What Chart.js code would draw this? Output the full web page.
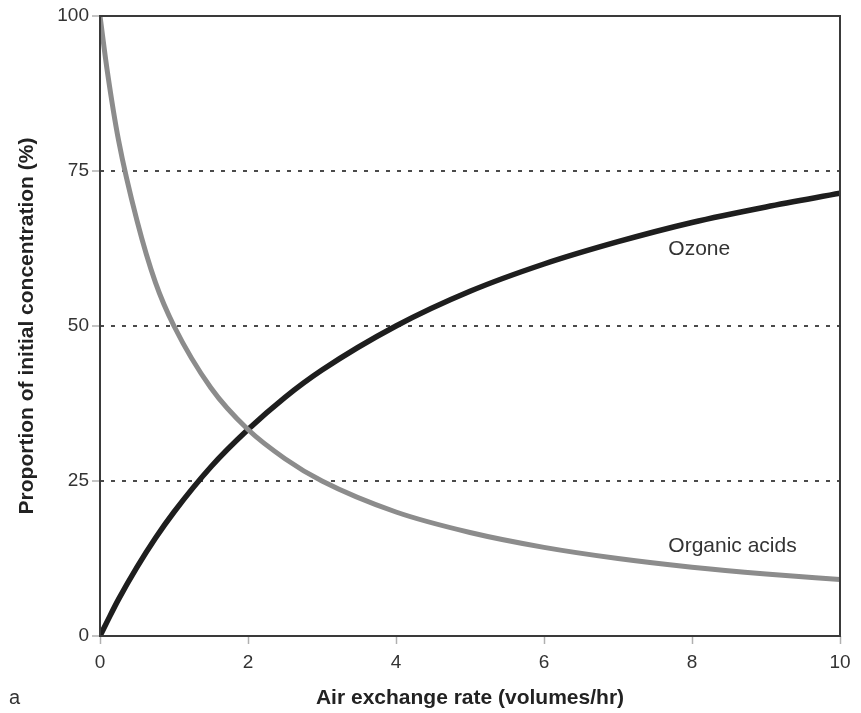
<!DOCTYPE html>
<html>
<head>
<meta charset="utf-8">
<script src="https://cdn.jsdelivr.net/npm/chart.js@4/dist/chart.umd.min.js"></script>
<style>
  html, body { margin: 0; padding: 0; background: #fff; }
  #wrap { width: 861px; height: 713px; }
</style>
</head>
<body>
<div id="wrap"><canvas id="chart"></canvas></div>
<script>
// values
const rates = [0, 0.1, 0.25, 0.5, 0.75, 1, 1.5, 2, 2.5, 3, 4, 5, 6, 7, 8, 9, 10];
const organicAcids = [100, 91, 80, 67, 57, 50, 40, 33.3, 28.6, 25, 20, 16.7, 14.3, 12.5, 11.1, 10, 9.1];
const ozone = [0, 2.4, 5.9, 11.1, 15.8, 20, 27.3, 33.3, 38.5, 42.9, 50, 55.6, 60, 63.6, 66.7, 69.2, 71.4];
const yTicks = [0, 25, 50, 75, 100];
const xTicks = [0, 2, 4, 6, 8, 10];

const seriesLabels = [
  { text: 'Ozone', x: 7.68, y: 62.4 },
  { text: 'Organic acids', x: 7.68, y: 14.5 }
];

const toPoints = (ys) => rates.map((x, i) => ({ x, y: ys[i] }));

const font = '"Liberation Sans", Arial, Helvetica, sans-serif';

// box around the plot, text labels and the little "a"
const extras = {
  id: 'extras',
  afterDraw(chart) {
    const { ctx, chartArea: a, scales } = chart;
    ctx.save();
    ctx.strokeStyle = '#3a3a3a';
    ctx.lineWidth = 2;
    ctx.strokeRect(a.left, a.top, a.right - a.left, a.bottom - a.top);

    ctx.fillStyle = '#333';
    ctx.font = '21px ' + font;
    ctx.textBaseline = 'middle';
    ctx.textAlign = 'left';
    seriesLabels.forEach(l => {
      ctx.fillText(l.text, scales.x.getPixelForValue(l.x), scales.y.getPixelForValue(l.y));
    });
    ctx.font = '20px ' + font;
    ctx.fillText('a', 9, 698);
    ctx.restore();
  }
};

new Chart(document.getElementById('chart'), {
  type: 'scatter',
  data: {
    datasets: [
      {
        label: 'Organic acids',
        data: toPoints(organicAcids),
        showLine: true,
        borderColor: '#8c8c8c',
        borderWidth: 5,
        pointRadius: 0,
        cubicInterpolationMode: 'monotone'
      },
      {
        label: 'Ozone',
        data: toPoints(ozone),
        showLine: true,
        borderColor: '#1e1e1e',
        borderWidth: 5.5,
        pointRadius: 0,
        cubicInterpolationMode: 'monotone'
      }
    ]
  },
  options: {
    responsive: true,
    maintainAspectRatio: false,
    animation: false,
    layout: { padding: { top: 16, right: 21, left: 0, bottom: 0 } },
    plugins: {
      legend: { display: false },
      tooltip: { enabled: false }
    },
    scales: {
      x: {
        type: 'linear',
        min: 0,
        max: 10,
        afterBuildTicks: (s) => { s.ticks = xTicks.map(v => ({ value: v })); },
        afterFit: (s) => { s.height = 77; },
        ticks: { color: '#333', font: { family: font, size: 19 }, padding: 7 },
        grid: { color: 'rgba(0,0,0,0)', tickColor: '#b0b0b0', tickLength: 8, tickWidth: 1.5 },
        border: { display: false },
        title: {
          display: true,
          text: 'Air exchange rate (volumes/hr)',
          color: '#222',
          font: { family: font, size: 21, weight: 'bold' },
          padding: { top: 4, bottom: 2 }
        }
      },
      y: {
        min: 0,
        max: 100,
        afterBuildTicks: (s) => { s.ticks = yTicks.map(v => ({ value: v })); },
        afterFit: (s) => { s.width = 100; },
        ticks: { color: '#333', font: { family: font, size: 19 }, padding: 3 },
        grid: {
          color: (c) => (c.tick && (c.tick.value === 0 || c.tick.value === 100)) ? 'rgba(0,0,0,0)' : '#4a4a4a',
          lineWidth: 2,
          tickColor: '#b0b0b0',
          tickLength: 8,
          tickWidth: 1.5,
          tickBorderDash: []
        },
        border: { display: false, dash: [4, 7] },
        title: {
          display: true,
          text: 'Proportion of initial concentration (%)',
          color: '#222',
          font: { family: font, size: 21, weight: 'bold' },
          padding: { top: 15, bottom: 4 }
        }
      }
    }
  },
  plugins: [extras]
});
</script>
</body>
</html>
